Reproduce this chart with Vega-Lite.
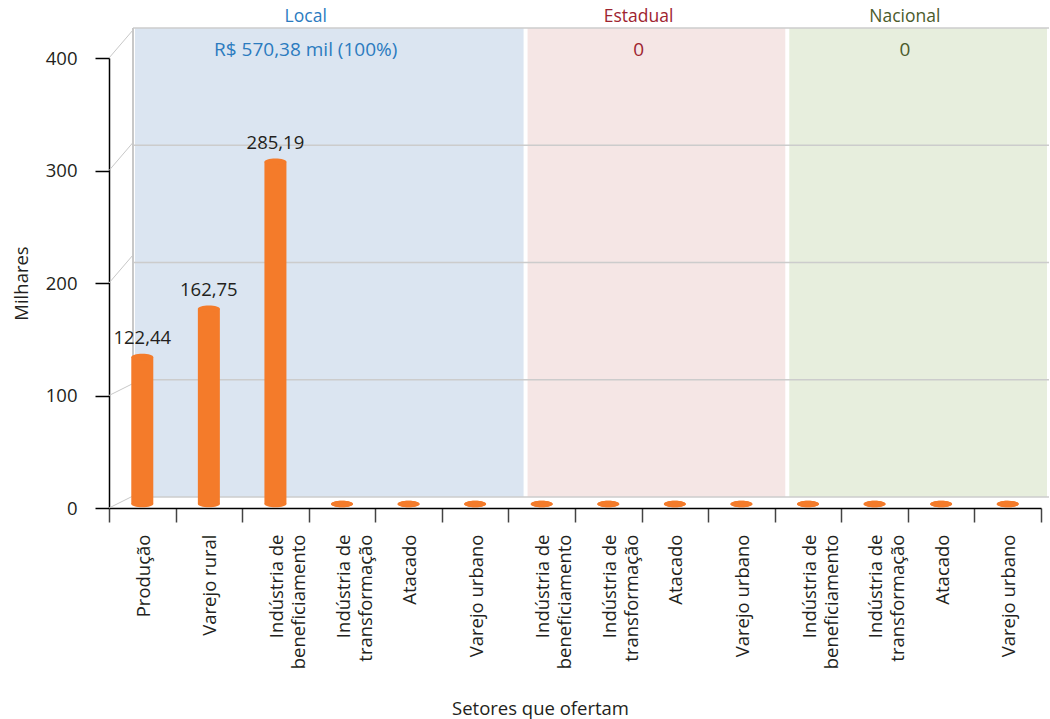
{
  "$schema": "https://vega.github.io/schema/vega-lite/v6.json",
  "width": 932,
  "height": 450,
  "autosize": {"type": "none"},
  "padding": {"left": 109, "top": 58, "right": 9, "bottom": 211},
  "background": "white",
  "config": {
    "font": "Open Sans",
    "view": {"stroke": null},
    "locale": {"number": {"decimal": ",", "thousands": ".", "grouping": [3], "currency": ["R$ ", ""]}}
  },
  "datasets": {
    "regioes": [
      {"regiao": "Local", "inicio": 0, "fim": 6, "total": "R$ 570,38 mil (100%)"},
      {"regiao": "Estadual", "inicio": 6, "fim": 10, "total": "0"},
      {"regiao": "Nacional", "inicio": 10, "fim": 14, "total": "0"}
    ],
    "setores": [
      {"setor": "Local|Produção", "regiao": "Local", "valor": 122.44},
      {"setor": "Local|Varejo rural", "regiao": "Local", "valor": 162.75},
      {"setor": "Local|Indústria de|beneficiamento", "regiao": "Local", "valor": 285.19},
      {"setor": "Local|Indústria de|transformação", "regiao": "Local", "valor": 0},
      {"setor": "Local|Atacado", "regiao": "Local", "valor": 0},
      {"setor": "Local|Varejo urbano", "regiao": "Local", "valor": 0},
      {"setor": "Estadual|Indústria de|beneficiamento", "regiao": "Estadual", "valor": 0},
      {"setor": "Estadual|Indústria de|transformação", "regiao": "Estadual", "valor": 0},
      {"setor": "Estadual|Atacado", "regiao": "Estadual", "valor": 0},
      {"setor": "Estadual|Varejo urbano", "regiao": "Estadual", "valor": 0},
      {"setor": "Nacional|Indústria de|beneficiamento", "regiao": "Nacional", "valor": 0},
      {"setor": "Nacional|Indústria de|transformação", "regiao": "Nacional", "valor": 0},
      {"setor": "Nacional|Atacado", "regiao": "Nacional", "valor": 0},
      {"setor": "Nacional|Varejo urbano", "regiao": "Nacional", "valor": 0}
    ],
    "marcas": [{"v": 0}, {"v": 100}, {"v": 200}, {"v": 300}, {"v": 400}]
  },
  "layer": [
    {
      "data": {"name": "regioes"},
      "mark": {"type": "rect", "xOffset": 2, "x2Offset": -2},
      "encoding": {
        "x": {"field": "inicio", "type": "quantitative", "scale": {"domain": [0, 14], "range": [24, 940]}, "axis": null},
        "x2": {"field": "fim"},
        "y": {"datum": 0, "type": "quantitative", "scale": {"domain": [0, 400], "range": [439, -30]}, "axis": null},
        "y2": {"datum": 400},
        "fill": {"field": "regiao", "type": "nominal", "scale": {"domain": ["Local", "Estadual", "Nacional"], "range": ["#dbe5f1", "#f5e6e5", "#e7eedd"]}, "legend": null}
      }
    },
    {
      "data": {"name": "marcas"},
      "mark": {"type": "rule", "color": "#cccccc", "strokeWidth": 1.5},
      "encoding": {
        "x": {"datum": 0, "type": "quantitative", "scale": {"domain": [0, 14], "range": [24, 940]}, "axis": null},
        "x2": {"datum": 14},
        "y": {"field": "v", "type": "quantitative", "scale": {"domain": [0, 400], "range": [439, -30]}, "axis": null}
      }
    },
    {
      "data": {"values": [{}]},
      "mark": {"type": "rule", "color": "#c8c8c8", "strokeWidth": 2},
      "encoding": {
        "x": {"datum": 0, "type": "quantitative", "scale": {"domain": [0, 14], "range": [24, 940]}, "axis": null},
        "y": {"datum": 0, "type": "quantitative", "scale": {"domain": [0, 400], "range": [439, -30]}, "axis": null},
        "y2": {"datum": 400}
      }
    },
    {
      "data": {"name": "marcas"},
      "transform": [{"filter": "datum.v <= 100"}],
      "mark": {"type": "rule", "color": "#c8c8c8", "strokeWidth": 1, "y2Offset": -12},
      "encoding": {
        "x": {"datum": 0, "type": "quantitative", "scale": {"domain": [0, 1], "range": [0, 24]}, "axis": null},
        "x2": {"datum": 1},
        "y": {
          "field": "v", "type": "quantitative",
          "scale": {"domain": [0, 400], "nice": false},
          "axis": {
            "values": [0, 100, 200, 300, 400],
            "title": "Milhares",
            "titleFontSize": 18.5, "titleFontWeight": "normal", "titleColor": "#231f20",
            "titleX": -88, "titleY": 225, "titleAngle": -90, "titleAlign": "center", "titleBaseline": "middle",
            "labelFontSize": 18.5, "labelColor": "#231f20", "labelPadding": 18,
            "tickSize": 14, "tickColor": "#000", "tickWidth": 1.5,
            "domainColor": "#000", "domainWidth": 1.5, "grid": false
          }
        },
        "y2": {"field": "v"}
      }
    },
    {
      "data": {"name": "marcas"},
      "transform": [{"filter": "datum.v >= 200"}],
      "mark": {"type": "rule", "color": "#c8c8c8", "strokeWidth": 1, "y2Offset": -28},
      "encoding": {
        "x": {"datum": 0, "type": "quantitative", "scale": {"domain": [0, 1], "range": [0, 24]}, "axis": null},
        "x2": {"datum": 1},
        "y": {"field": "v", "type": "quantitative", "scale": {"domain": [0, 400], "nice": false}, "axis": null},
        "y2": {"field": "v"}
      }
    },
    {
      "data": {"name": "regioes"},
      "transform": [{"fold": ["inicio", "fim"], "as": ["borda", "pos"]}],
      "mark": {"type": "text", "fontSize": 17.5, "dx": -3, "dy": -41, "baseline": "middle"},
      "encoding": {
        "x": {"aggregate": "mean", "field": "pos", "type": "quantitative", "scale": {"domain": [0, 14]}, "axis": null},
        "y": {"datum": 400, "type": "quantitative", "scale": {"domain": [0, 400]}, "axis": null},
        "text": {"field": "regiao", "type": "nominal"},
        "color": {"field": "regiao", "type": "nominal", "scale": {"domain": ["Local", "Estadual", "Nacional"], "range": ["#2b7bbf", "#9e2430", "#4b5b2b"]}, "legend": null}
      }
    },
    {
      "data": {"name": "regioes"},
      "transform": [{"fold": ["inicio", "fim"], "as": ["borda", "pos"]}],
      "mark": {"type": "text", "fontSize": 19, "dx": -3, "dy": -8, "baseline": "middle"},
      "encoding": {
        "x": {"aggregate": "mean", "field": "pos", "type": "quantitative", "scale": {"domain": [0, 14]}, "axis": null},
        "y": {"datum": 400, "type": "quantitative", "scale": {"domain": [0, 400]}, "axis": null},
        "text": {"field": "total", "type": "nominal"},
        "color": {"field": "regiao", "type": "nominal", "scale": {"domain": ["Local", "Estadual", "Nacional"], "range": ["#2b7bbf", "#9e2430", "#4b5b2b"]}, "legend": null}
      }
    },
    {
      "data": {"name": "setores"},
      "mark": {"type": "bar", "width": 22, "color": "#f47b2a"},
      "encoding": {
        "x": {
          "field": "setor", "type": "nominal", "sort": null,
          "scale": {"paddingInner": 0, "paddingOuter": 0},
          "axis": {
            "title": "Setores que ofertam",
            "titleFontSize": 18.5, "titleFontWeight": "normal", "titleColor": "#231f20",
            "titleX": 431, "titleY": 200, "titleAlign": "center", "titleBaseline": "middle",
            "labelAngle": -90, "labelAlign": "right", "labelBaseline": "middle",
            "labelExpr": "slice(split(datum.value, '|'), 1)",
            "labelFontSize": 18.5, "labelColor": "#231f20", "labelLineHeight": 22,
            "labelPadding": 12, "labelOffset": 1, "labelLimit": 400,
            "tickBand": "extent", "tickSize": 14, "tickColor": "#444", "tickWidth": 1.5,
            "domainColor": "#000", "domainWidth": 1.5
          }
        },
        "y": {"field": "valor", "type": "quantitative", "scale": {"domain": [0, 400], "range": [446, -34]}, "axis": null},
        "y2": {"datum": 0}
      }
    },
    {
      "data": {"name": "setores"},
      "mark": {"type": "point", "shape": "M -1 0 A 1 0.3 0 1 0 1 0 A 1 0.3 0 1 0 -1 0 Z", "size": 484, "filled": true, "opacity": 1, "color": "#f47b2a", "strokeWidth": 0},
      "encoding": {
        "x": {"field": "setor", "type": "nominal", "sort": null, "scale": {"paddingInner": 0, "paddingOuter": 0}, "axis": null},
        "y": {"datum": 0, "type": "quantitative", "scale": {"domain": [0, 400], "range": [446, -34]}, "axis": null}
      }
    },
    {
      "data": {"name": "setores"},
      "mark": {"type": "point", "shape": "M -1 0 A 1 0.3 0 1 0 1 0 A 1 0.3 0 1 0 -1 0 Z", "size": 484, "filled": true, "opacity": 1, "color": "#f47b2a", "strokeWidth": 0},
      "encoding": {
        "x": {"field": "setor", "type": "nominal", "sort": null, "scale": {"paddingInner": 0, "paddingOuter": 0}, "axis": null},
        "y": {"field": "valor", "type": "quantitative", "scale": {"domain": [0, 400], "range": [446, -34]}, "axis": null}
      }
    },
    {
      "data": {"name": "setores"},
      "mark": {"type": "text", "fontSize": 18.5, "dy": -19, "baseline": "middle", "color": "#231f20"},
      "encoding": {
        "x": {"field": "setor", "type": "nominal", "sort": null, "scale": {"paddingInner": 0, "paddingOuter": 0}, "axis": null},
        "y": {"field": "valor", "type": "quantitative", "scale": {"domain": [0, 400], "range": [446, -34]}, "axis": null},
        "text": {"condition": {"test": "datum.valor > 0", "field": "valor", "type": "quantitative", "format": ".2f"}, "value": ""}
      }
    }
  ],
  "resolve": {"scale": {"x": "independent", "y": "independent"}}
}
